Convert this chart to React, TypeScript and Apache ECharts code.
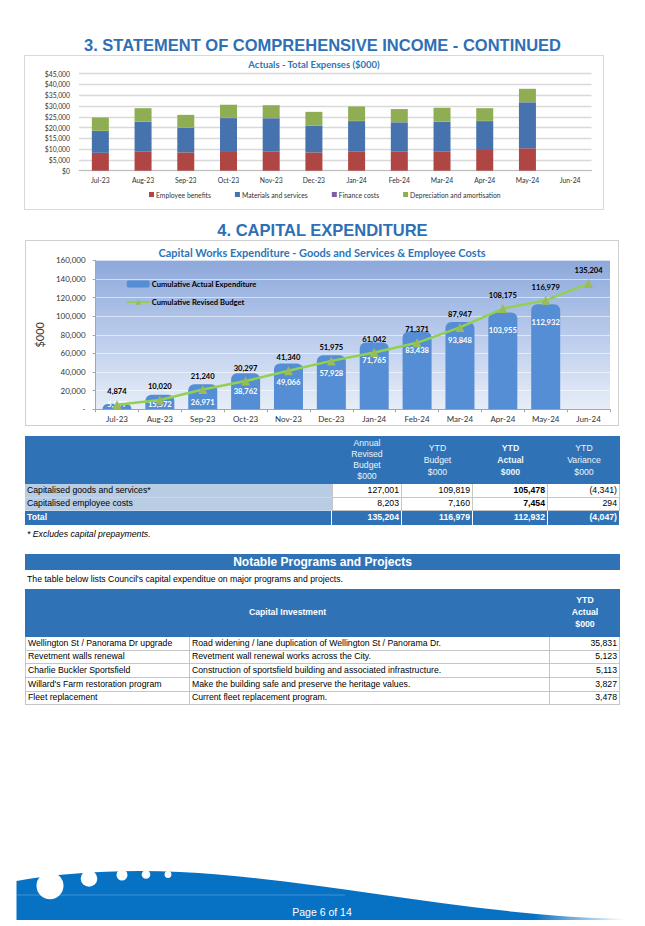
import React, { useEffect, useRef } from "react";
import * as echarts from "echarts";

// ---------- data ----------
const months = ["Jul-23", "Aug-23", "Sep-23", "Oct-23", "Nov-23", "Dec-23", "Jan-24", "Feb-24", "Mar-24", "Apr-24", "May-24", "Jun-24"];

// Actuals - Total Expenses ($000)
const employeeBenefits = [8300, 9000, 8500, 9100, 9000, 8500, 9000, 9000, 9000, 9600, 10400, null];
const materialsServices = [10100, 13700, 11400, 15300, 15300, 12400, 14000, 13400, 13700, 13400, 21300, null];
const financeCosts = [100, 100, 100, 100, 100, 100, 100, 100, 100, 100, 100, null];
const depreciationAmortisation = [6200, 6200, 5900, 6100, 6000, 6300, 6700, 6100, 6400, 5900, 6200, null];

// Capital works
const cumulativeActual = [5997, 15572, 26971, 38762, 49066, 57928, 71765, 83438, 93848, 103955, 112932, null];
const cumulativeBudget = [4874, 10020, 21240, 30297, 41340, 51975, 61042, 71371, 87947, 108175, 116979, 135204];

// Capital expenditure table
const capexRowLabels = ["Capitalised goods and services*", "Capitalised employee costs"];
const annualRevisedBudget = [127001, 8203];
const ytdBudget = [109819, 7160];
const ytdActual = [105478, 7454];
const ytdVariance = [-4341, 294];
const capexTotals = [135204, 116979, 112932, -4047];
const capexHeaders = [["Annual", "Revised", "Budget", "$000"], ["YTD", "Budget", "$000"], ["YTD", "Actual", "$000"], ["YTD", "Variance", "$000"]];

// Notable programs
const projectNames = ["Wellington St / Panorama Dr upgrade", "Revetment walls renewal", "Charlie Buckler Sportsfield", "Willard's Farm restoration program", "Fleet replacement"];
const projectDescriptions = [
  "Road widening / lane duplication of Wellington St / Panorama Dr.",
  "Revetment wall renewal works across the City.",
  "Construction of sportsfield building and associated infrastructure.",
  "Make the building safe and preserve the heritage values.",
  "Current fleet replacement program.",
];
const projectActuals = [35831, 5123, 5113, 3827, 3478];

// ---------- helpers ----------
const BLUE = "#2F73B6";
const TITLE_BLUE = "#2E6FB6";
const SANS = '"Liberation Sans", Arial, sans-serif';
const fmt = (v: number) => (v < 0 ? `(${Math.abs(v).toLocaleString("en-US")})` : v.toLocaleString("en-US"));

type CellProps = {
  x: number; y: number; w: number; h: number;
  align?: "left" | "right" | "center";
  style?: React.CSSProperties;
  children?: React.ReactNode;
};
function Cell({ x, y, w, h, align = "left", style, children }: CellProps) {
  return (
    <div
      style={{
        position: "absolute", left: x, top: y, width: w, height: h, boxSizing: "border-box",
        display: "flex", alignItems: "center",
        justifyContent: align === "left" ? "flex-start" : align === "right" ? "flex-end" : "center",
        textAlign: align, padding: "0 2px", fontSize: 8.7, lineHeight: "11.5px", fontFamily: SANS, color: "#000",
        whiteSpace: "nowrap",
        ...style,
      }}
    >
      <div>{children}</div>
    </div>
  );
}

export default function App() {
  const ref1 = useRef<HTMLDivElement>(null);
  const ref2 = useRef<HTMLDivElement>(null);

  useEffect(() => {
    const c1 = echarts.init(ref1.current!, null, { renderer: "svg" });
    const c2 = echarts.init(ref2.current!, null, { renderer: "svg" });

    const expenseSeries = [
      { name: "Employee benefits", data: employeeBenefits, color: "#B04643" },
      { name: "Materials and services", data: materialsServices, color: "#4673AD" },
      { name: "Finance costs", data: financeCosts, color: "#7D60A1" },
      { name: "Depreciation and amortisation", data: depreciationAmortisation, color: "#8FAE54" },
    ];

    c1.setOption({
      animation: false,
      textStyle: { fontFamily: "Lato" },
      title: {
        text: "Actuals - Total Expenses ($000)", left: "center", top: 3, padding: 0,
        textStyle: { fontSize: 9.5, fontWeight: "bold", color: "#2E75B6", fontFamily: "Lato" },
      },
      legend: {
        left: 119, top: 130, itemWidth: 5, itemHeight: 5, itemGap: 24, icon: "rect",
        textStyle: { fontSize: 6.8, color: "#333", fontFamily: "Lato", padding: [0, 0, 0, -3] },
        data: expenseSeries.map((s) => s.name),
      },
      grid: { left: 54, right: 11.5, top: 17.7, bottom: 38.3 },
      xAxis: {
        type: "category", data: months,
        axisLine: { lineStyle: { color: "#BFBFBF", width: 1 } },
        axisTick: { show: false },
        axisLabel: { fontSize: 6.8, color: "#333", margin: 6, fontFamily: "Lato" },
      },
      yAxis: {
        type: "value", min: 0, max: 45000, interval: 5000,
        axisLabel: { formatter: (v: number) => "$" + v.toLocaleString("en-US"), fontSize: 6.8, color: "#333", margin: 9, fontFamily: "Lato" },
        splitLine: { lineStyle: { color: "#D9D9D9", width: 1.3 } },
      },
      series: expenseSeries.map((s) => ({
        type: "bar", name: s.name, stack: "total", data: s.data, barWidth: 17,
        itemStyle: { color: s.color },
      })),
    });

    const gradient = new echarts.graphic.LinearGradient(0, 0, 0, 1, [
      { offset: 0, color: "#8DA8DA" },
      { offset: 0.5, color: "#B9CBEC" },
      { offset: 1, color: "#E8EEF8" },
    ]);

    c2.setOption({
      animation: false,
      textStyle: { fontFamily: "Lato" },
      title: {
        text: "Capital Works Expenditure - Goods and Services & Employee Costs", left: "center", top: 6, padding: 0,
        textStyle: { fontSize: 11, fontWeight: "bold", color: "#2E75B6", fontFamily: "Lato" },
      },
      legend: {
        orient: "vertical", left: 94.7, top: 34, itemWidth: 23, itemHeight: 7, itemGap: 10,
        textStyle: { fontSize: 7.6, fontWeight: "bold", color: "#000", fontFamily: "Lato", padding: [0, 0, 0, -3] },
        data: [{ name: "Cumulative Actual Expenditure", icon: "roundRect" }, { name: "Cumulative Revised Budget" }],
      },
      grid: { left: 54, right: 8, top: 19.3, bottom: 15.7, show: true, borderWidth: 0, backgroundColor: gradient },
      xAxis: {
        type: "category", data: months,
        axisLine: { lineStyle: { color: "#A6A6A6" } },
        axisTick: { show: true, length: 3, lineStyle: { color: "#A6A6A6" } },
        axisLabel: { fontSize: 8, color: "#333", margin: 6, fontFamily: "Lato" },
      },
      yAxis: {
        type: "value", min: 0, max: 160000, interval: 20000,
        name: "$000", nameLocation: "middle", nameGap: 48,
        nameTextStyle: { fontSize: 11, color: "#333", fontFamily: "Lato" },
        axisLine: { show: true, lineStyle: { color: "#A6A6A6" } },
        axisTick: { show: true, length: 3, lineStyle: { color: "#A6A6A6" } },
        axisLabel: {
          formatter: (v: number) => (v === 0 ? "-" : v.toLocaleString("en-US")),
          fontSize: 8, color: "#333", margin: 10, fontFamily: "Lato",
        },
        splitLine: { lineStyle: { color: "rgba(255,255,255,0.55)", width: 1 } },
      },
      series: [
        {
          type: "bar", name: "Cumulative Actual Expenditure", barWidth: 29,
          data: cumulativeActual.map((v) =>
            v == null ? null : v < 20000 ? { value: v, label: { position: "insideBottom", distance: 1 } } : v
          ),
          itemStyle: { color: "#558ED5", borderRadius: [6, 6, 0, 0] },
          label: {
            show: true, position: "insideTop", distance: 14, color: "#fff", fontWeight: "bold", fontSize: 7.6, fontFamily: "Lato",
            formatter: (p: any) => Number(p.value).toLocaleString("en-US"),
          },
        },
        {
          type: "line", name: "Cumulative Revised Budget", data: cumulativeBudget, z: 5,
          symbol: "triangle", symbolSize: 9,
          itemStyle: { color: "#9BBB59" },
          lineStyle: { color: "#92D050", width: 2.5 },
          label: {
            show: true, position: "top", distance: 5, color: "#000", fontWeight: "bold", fontSize: 7.6, fontFamily: "Lato",
            formatter: (p: any) => Number(p.value).toLocaleString("en-US"),
          },
        },
      ],
    });

    return () => {
      c1.dispose();
      c2.dispose();
    };
  }, []);

  // table geometry
  const t1Cols = [25, 332, 402, 473, 548, 620];
  const t1HeadTop = 436;
  const t1HeadBottom = 484;
  const rowH = 13.7;
  const t2Cols = [25, 190, 550, 620];
  const t2HeadTop = 589;
  const t2HeadBottom = 637;
  const gridBorder = "1px solid #C6C6C6";

  const t1Values = [annualRevisedBudget, ytdBudget, ytdActual, ytdVariance];

  return (
    <div style={{ position: "absolute", left: 0, top: 0, width: 645, height: 926, background: "#fff", overflow: "hidden", fontFamily: SANS }}>
      {/* Section 3 title */}
      <div style={{ position: "absolute", left: 0, top: 35, width: 645, textAlign: "center", fontSize: 16.5, lineHeight: "20px", fontWeight: "bold", color: TITLE_BLUE }}>
        3. STATEMENT OF COMPREHENSIVE INCOME - CONTINUED
      </div>
      <div style={{ position: "absolute", left: 24, top: 55, width: 580, height: 155, border: "1px solid #D9D9D9", boxSizing: "border-box" }}>
        <div ref={ref1} style={{ position: "absolute", left: 0, top: 0, width: 578, height: 153 }} />
      </div>

      {/* Section 4 title */}
      <div style={{ position: "absolute", left: 0, top: 220, width: 645, textAlign: "center", fontSize: 16.5, lineHeight: "20px", fontWeight: "bold", color: TITLE_BLUE }}>
        4. CAPITAL EXPENDITURE
      </div>
      <div style={{ position: "absolute", left: 25, top: 240, width: 594, height: 186, border: "1px solid #CFCFCF", boxSizing: "border-box" }}>
        <div ref={ref2} style={{ position: "absolute", left: 0, top: 0, width: 592, height: 184 }} />
      </div>

      {/* Capex table header */}
      <div style={{ position: "absolute", left: t1Cols[0], top: t1HeadTop, width: t1Cols[5] - t1Cols[0], height: t1HeadBottom - t1HeadTop, background: BLUE }} />
      {capexHeaders.map((lines, i) => (
        <Cell key={"h" + i} x={t1Cols[i + 1]} y={t1HeadTop} w={t1Cols[i + 2] - t1Cols[i + 1]} h={t1HeadBottom - t1HeadTop} align="center"
          style={{ color: "#EEF3FA", fontWeight: i === 2 ? "bold" : "normal", lineHeight: i === 0 ? "11.2px" : "12px" }}>
          {lines.map((l, k) => (<div key={k}>{l}</div>))}
        </Cell>
      ))}
      {/* Capex rows */}
      {capexRowLabels.map((label, r) => {
        const y = t1HeadBottom + r * rowH;
        return (
          <React.Fragment key={"r" + r}>
            <Cell x={t1Cols[0]} y={y} w={t1Cols[1] - t1Cols[0]} h={rowH} style={{ background: "#B8CCE4", borderBottom: "1px solid #C9D7EA" }}>{label}</Cell>
            {t1Values.map((arr, c) => (
              <Cell key={c} x={t1Cols[c + 1]} y={y} w={t1Cols[c + 2] - t1Cols[c + 1]} h={rowH} align="right"
                style={{ background: "#fff", borderRight: gridBorder, borderBottom: gridBorder, borderLeft: c === 0 ? gridBorder : undefined, fontWeight: c === 2 ? "bold" : "normal" }}>
                {fmt(arr[r])}
              </Cell>
            ))}
          </React.Fragment>
        );
      })}
      {/* Total row */}
      {(() => {
        const y = t1HeadBottom + capexRowLabels.length * rowH;
        return (
          <React.Fragment>
            <Cell x={t1Cols[0]} y={y} w={t1Cols[1] - t1Cols[0]} h={rowH} style={{ background: BLUE, color: "#fff", fontWeight: "bold", borderRight: "1px solid #fff" }}>Total</Cell>
            {capexTotals.map((v, c) => (
              <Cell key={"t" + c} x={t1Cols[c + 1]} y={y} w={t1Cols[c + 2] - t1Cols[c + 1]} h={rowH} align="right"
                style={{ background: BLUE, color: "#fff", fontWeight: "bold", borderRight: "1px solid #fff" }}>
                {fmt(v)}
              </Cell>
            ))}
          </React.Fragment>
        );
      })()}

      <div style={{ position: "absolute", left: 27, top: 528, fontSize: 8.7, lineHeight: "12px", fontStyle: "italic", color: "#000" }}>
        * Excludes capital prepayments.
      </div>

      {/* Notable Programs header */}
      <div style={{ position: "absolute", left: 25, top: 553.5, width: 595, height: 16, background: BLUE, color: "#fff", fontWeight: "bold", fontSize: 12, lineHeight: "16px", textAlign: "center" }}>
        Notable Programs and Projects
      </div>
      <div style={{ position: "absolute", left: 27, top: 573, fontSize: 8.7, lineHeight: "12px", color: "#000" }}>
        The table below lists Council's capital expenditue on major programs and projects.
      </div>

      {/* Projects table */}
      <div style={{ position: "absolute", left: t2Cols[0], top: t2HeadTop, width: t2Cols[3] - t2Cols[0], height: t2HeadBottom - t2HeadTop, background: BLUE }} />
      <Cell x={t2Cols[0]} y={t2HeadTop} w={t2Cols[2] - t2Cols[0]} h={t2HeadBottom - t2HeadTop} align="center" style={{ color: "#fff", fontWeight: "bold" }}>
        Capital Investment
      </Cell>
      <Cell x={t2Cols[2]} y={t2HeadTop} w={t2Cols[3] - t2Cols[2]} h={t2HeadBottom - t2HeadTop} align="center" style={{ color: "#fff", fontWeight: "bold", lineHeight: "11.8px" }}>
        <div>YTD</div><div>Actual</div><div>$000</div>
      </Cell>
      {projectNames.map((name, r) => {
        const y = t2HeadBottom + r * rowH;
        const cellStyle: React.CSSProperties = { background: "#fff", borderRight: gridBorder, borderBottom: gridBorder };
        return (
          <React.Fragment key={"p" + r}>
            <Cell x={t2Cols[0]} y={y} w={t2Cols[1] - t2Cols[0]} h={rowH} style={{ ...cellStyle, borderLeft: gridBorder }}>{name}</Cell>
            <Cell x={t2Cols[1]} y={y} w={t2Cols[2] - t2Cols[1]} h={rowH} style={cellStyle}>{projectDescriptions[r]}</Cell>
            <Cell x={t2Cols[2]} y={y} w={t2Cols[3] - t2Cols[2]} h={rowH} align="right" style={cellStyle}>{fmt(projectActuals[r])}</Cell>
          </React.Fragment>
        );
      })}

      {/* Footer */}
      <svg style={{ position: "absolute", left: 0, top: 860 }} width={645} height={66} viewBox="0 860 645 66">
        <defs>
          <linearGradient id="fade" x1="0" y1="0" x2="1" y2="0">
            <stop offset="0" stopColor="#0771C4" />
            <stop offset="0.85" stopColor="#0771C4" />
            <stop offset="1" stopColor="#0771C4" stopOpacity="0" />
          </linearGradient>
        </defs>
        <path d="M16.5,881 C60,873 120,869 180,872 C300,878 420,905 560,916 C590,918 610,918.5 625,919 L625,920 L16.5,920 Z" fill="url(#fade)" />
        <line x1="16.5" y1="895" x2="345" y2="895" stroke="rgba(255,255,255,0.3)" strokeWidth="0.8" />
        <circle cx="50" cy="885.7" r="13.5" fill="#fff" />
        <circle cx="89" cy="878.5" r="8.3" fill="#fff" />
        <circle cx="122" cy="875" r="5.5" fill="#fff" />
        <circle cx="146" cy="874.5" r="4.3" fill="#fff" />
        <circle cx="168" cy="874.5" r="3.4" fill="#fff" />
        <text x="322" y="915.5" textAnchor="middle" fill="#fff" fontSize="10.5" fontFamily={SANS}>Page 6 of 14</text>
      </svg>
    </div>
  );
}
